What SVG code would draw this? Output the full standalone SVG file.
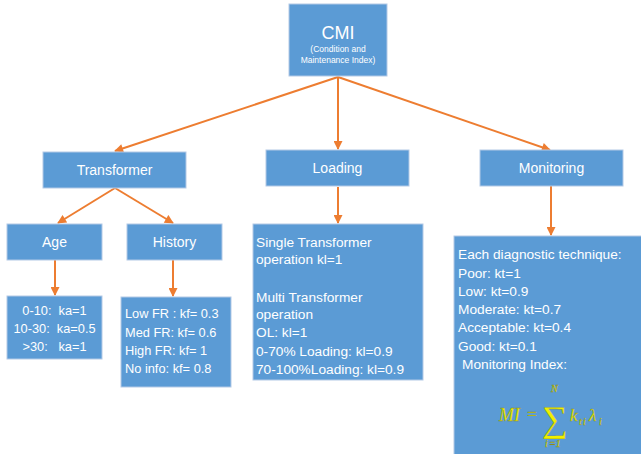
<svg xmlns="http://www.w3.org/2000/svg" width="641" height="454" viewBox="0 0 641 454">
  <defs>
    <marker id="arrow" viewBox="0 0 10 10" refX="9" refY="5" markerWidth="10" markerHeight="9" markerUnits="userSpaceOnUse" orient="auto">
      <path d="M0,0 L10,5 L0,10 z" fill="#ed7d31"/>
    </marker>
    <style>
      .box { fill: #5b9bd5; stroke: #b3c9e6; stroke-width: 1; }
      .lbl { font-family: "Liberation Sans", Arial, sans-serif; fill: #ffffff; }
      .title { font-size: 14px; text-anchor: middle; }
      .small { font-size: 12.8px; }
      .body { font-size: 13.7px; }
      .edge { stroke: #ed7d31; stroke-width: 2; fill: none; }
      .math { font-family: "Liberation Serif", "DejaVu Serif", serif; font-style: italic; fill: #f0f000; stroke: #8a8a20; stroke-width: 0.3; }
    </style>
  </defs>
  <rect width="641" height="454" fill="#ffffff"/>

  <!-- connectors -->
  <g id="connectors">
    <line class="edge" x1="338" y1="77" x2="115" y2="151" marker-end="url(#arrow)"/>
    <line class="edge" x1="338" y1="77" x2="338" y2="149" marker-end="url(#arrow)"/>
    <line class="edge" x1="338" y1="77" x2="550" y2="150" marker-end="url(#arrow)"/>
    <line class="edge" x1="115" y1="188" x2="58" y2="223" marker-end="url(#arrow)"/>
    <line class="edge" x1="115" y1="188" x2="173" y2="223" marker-end="url(#arrow)"/>
    <line class="edge" x1="338" y1="187" x2="338" y2="223" marker-end="url(#arrow)"/>
    <line class="edge" x1="551" y1="186" x2="551" y2="235" marker-end="url(#arrow)"/>
    <line class="edge" x1="55" y1="260" x2="55" y2="295" marker-end="url(#arrow)"/>
    <line class="edge" x1="173" y1="260" x2="173" y2="296" marker-end="url(#arrow)"/>
  </g>

  <!-- root -->
  <g id="cmi">
    <rect class="box" x="289" y="4" width="98" height="72"/>
    <text class="lbl" x="338" y="39" font-size="18" text-anchor="middle">CMI</text>
    <text class="lbl" x="338" y="52" font-size="8.5" text-anchor="middle">(Condition and</text>
    <text class="lbl" x="338" y="63" font-size="8.5" text-anchor="middle">Maintenance Index)</text>
  </g>

  <!-- second level -->
  <g id="transformer">
    <rect class="box" x="43" y="152" width="143" height="36"/>
    <text class="lbl title" x="114.5" y="175">Transformer</text>
  </g>
  <g id="loading">
    <rect class="box" x="266" y="150" width="143" height="36"/>
    <text class="lbl title" x="337.5" y="173">Loading</text>
  </g>
  <g id="monitoring">
    <rect class="box" x="480" y="150" width="143" height="36"/>
    <text class="lbl title" x="551.5" y="173">Monitoring</text>
  </g>

  <!-- transformer branches -->
  <g id="age">
    <rect class="box" x="7" y="224" width="95" height="36"/>
    <text class="lbl title" x="54.5" y="247">Age</text>
  </g>
  <g id="history">
    <rect class="box" x="127" y="224" width="95" height="36"/>
    <text class="lbl title" x="174.5" y="247">History</text>
  </g>

  <!-- factor tables -->
  <g id="age-factors">
    <rect class="box" x="7" y="296" width="95" height="63"/>
    <text class="lbl small" x="54.5" y="315" text-anchor="middle" xml:space="preserve">0-10:  ka=1</text>
    <text class="lbl small" x="54.5" y="333" text-anchor="middle" xml:space="preserve">10-30:  ka=0.5</text>
    <text class="lbl small" x="54.5" y="351" text-anchor="middle" xml:space="preserve">&gt;30:   ka=1</text>
  </g>
  <g id="history-factors">
    <rect class="box" x="121" y="297" width="110" height="90"/>
    <text class="lbl small" x="125" y="318">Low FR : kf= 0.3</text>
    <text class="lbl small" x="125" y="337">Med FR: kf= 0.6</text>
    <text class="lbl small" x="125" y="355">High FR: kf= 1</text>
    <text class="lbl small" x="125" y="373">No info: kf= 0.8</text>
  </g>
  <g id="loading-factors">
    <rect class="box" x="253" y="224" width="170" height="156"/>
    <text class="lbl body" x="256" y="247">Single Transformer</text>
    <text class="lbl body" x="256" y="264">operation kl=1</text>
    <text class="lbl body" x="256" y="302">Multi Transformer</text>
    <text class="lbl body" x="256" y="319">operation</text>
    <text class="lbl body" x="256" y="337">OL: kl=1</text>
    <text class="lbl body" x="256" y="356">0-70% Loading: kl=0.9</text>
    <text class="lbl body" x="256" y="374">70-100%Loading: kl=0.9</text>
  </g>
  <g id="monitoring-factors">
    <rect class="box" x="454" y="236" width="192" height="222"/>
    <text class="lbl body" x="458" y="259">Each diagnostic technique:</text>
    <text class="lbl body" x="458" y="278">Poor: kt=1</text>
    <text class="lbl body" x="458" y="296">Low: kt=0.9</text>
    <text class="lbl body" x="458" y="314">Moderate: kt=0.7</text>
    <text class="lbl body" x="458" y="332">Acceptable: kt=0.4</text>
    <text class="lbl body" x="458" y="351">Good: kt=0.1</text>
    <text class="lbl body" x="462" y="369">Monitoring Index:</text>
    <!-- MI = sum over i of k_ti * lambda_i -->
    <text class="math" x="499" y="421" font-size="18">MI</text>
    <text class="math" x="526" y="420" font-size="17" font-style="normal">=</text>
    <text class="math" x="542" y="431" font-size="36" font-style="normal" stroke-width="0.6">∑</text>
    <text class="math" x="551" y="392" font-size="10">N</text>
    <text class="math" x="545" y="447" font-size="10">i</text>
    <text class="math" x="549" y="447" font-size="10" font-style="normal">=1</text>
    <text class="math" x="570" y="421" font-size="17">k</text>
    <text class="math" x="579" y="425" font-size="10">t</text>
    <text class="math" x="583" y="425" font-size="10">i</text>
    <text class="math" x="589" y="421" font-size="17">λ</text>
    <text class="math" x="599" y="425" font-size="10">i</text>
  </g>
</svg>
